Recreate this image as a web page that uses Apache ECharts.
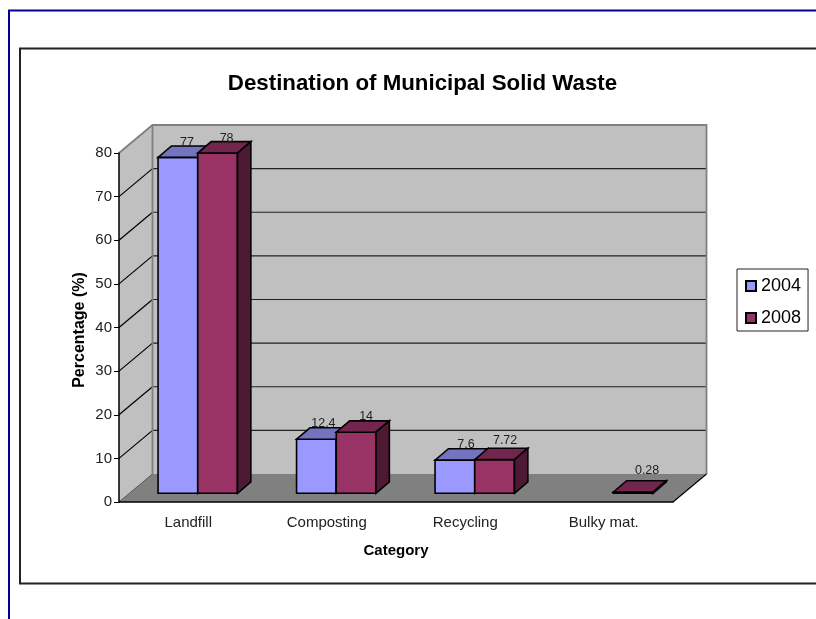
<!DOCTYPE html>
<html>
<head>
<meta charset="utf-8">
<style>
  html, body { margin: 0; padding: 0; background: #fff; }
  #chart { width: 816px; height: 619px; }
</style>
<script src="https://cdn.jsdelivr.net/npm/echarts@6/dist/echarts.min.js"></script>
</head>
<body>
<div id="chart"></div>
<script>
const categories = ['Landfill', 'Composting', 'Recycling', 'Bulky mat.']
const values2004 = [77, 12.4, 7.6, null]
const values2008 = [78, 14, 7.72, 0.28]
const yTicks = [0, 10, 20, 30, 40, 50, 60, 70, 80]

const FONT = '"Liberation Sans", Arial, sans-serif'

// wall depth of the fake 3D box, bar depth and inset
const wallDX = 33.5
const wallDY = 28
const barDX = 13.4
const barDY = 11.4
const baseDY = 8.7
const barW = 39.7

// hand nudges for the data labels, the source places them a bit unevenly
const labelNudge2004 = [[0, 1.5], [-2, 0], [2, 0], [0, 0]]
const labelNudge2008 = [[0, 1.5], [1, 0], [1.5, -3], [5, -6]]

const poly = (points, fill, stroke, lineWidth) => ({
  type: 'polygon',
  shape: { points },
  style: { fill, stroke: stroke || 'none', lineWidth: lineWidth || 0, lineJoin: 'miter' }
})

const line = (points, stroke, lineWidth) => ({
  type: 'polyline',
  shape: { points },
  style: { fill: 'none', stroke, lineWidth }
})

const renderWalls = (params, api) => {
  const g = params.coordSys
  const y0 = api.coord([0, 0])[1]
  const yTop = api.coord([0, 80])[1]
  const xL = g.x
  const xR = g.x + g.width
  const children = [
    poly([[xL, yTop], [xL + wallDX, yTop - wallDY], [xL + wallDX, y0 - wallDY], [xL, y0]], '#c0c0c0'),
    poly([[xL + wallDX, yTop - wallDY], [xR + wallDX, yTop - wallDY], [xR + wallDX, y0 - wallDY], [xL + wallDX, y0 - wallDY]], '#c0c0c0'),
    poly([[xL, y0], [xL + wallDX, y0 - wallDY], [xR + wallDX, y0 - wallDY], [xR, y0]], '#808080')
  ]
  yTicks.slice(1, -1).forEach(v => {
    const y = api.coord([0, v])[1]
    children.push(line([[xL, y], [xL + wallDX, y - wallDY]], '#000', 1.2))
    children.push(line([[xL + wallDX, y - wallDY], [xR + wallDX, y - wallDY]], '#222', 1.2))
  })
  children.push(line([[xL, yTop], [xL + wallDX, yTop - wallDY], [xR + wallDX, yTop - wallDY], [xR + wallDX, y0 - wallDY]], '#808080', 1.8))
  children.push(line([[xL + wallDX, yTop - wallDY], [xL + wallDX, y0 - wallDY]], '#808080', 1.8))
  children.push(line([[xL, y0], [xL + wallDX, y0 - wallDY]], '#555', 1))
  children.push(line([[xR, y0], [xR + wallDX, y0 - wallDY]], '#000', 1.2))
  return { type: 'group', children }
}

const barRenderer = (offset, nudge, front, top, side) => (params, api) => {
  const v = api.value(1)
  if (v == null || isNaN(v)) return null
  const base = api.coord([api.value(0), 0])
  const head = api.coord([api.value(0), v])
  const xa = base[0] + offset
  const xb = xa + barW
  const yb = base[1] - baseDY
  const yt = head[1] - baseDY
  const n = nudge[params.dataIndex]
  const children = [
    poly([[xa, yb], [xb, yb], [xb, yt], [xa, yt]], front, '#000', 1.6),
    poly([[xa, yt], [xb, yt], [xb + barDX, yt - barDY], [xa + barDX, yt - barDY]], top, '#000', 1.6),
    poly([[xb, yb], [xb + barDX, yb - barDY], [xb + barDX, yt - barDY], [xb, yt]], side, '#000', 1.6),
    {
      type: 'text',
      style: {
        x: xa + barW / 2 + 9 + n[0],
        y: yt - 16 + n[1],
        text: String(v),
        fill: '#222',
        font: '12.5px ' + FONT,
        align: 'center',
        verticalAlign: 'middle'
      }
    }
  ]
  return { type: 'group', children }
}

const toPoints = vals => categories.map((c, i) => [i, vals[i]])

const chart = echarts.init(document.getElementById('chart'), null, { renderer: 'canvas' })

chart.setOption({
  animation: false,
  backgroundColor: '#fff',
  title: {
    text: 'Destination of Municipal Solid Waste',
    left: 417.5,
    top: 68,
    textAlign: 'center',
    textStyle: { fontFamily: FONT, fontSize: 22.3, fontWeight: 'bold', color: '#000' }
  },
  graphic: [
    { type: 'rect', silent: true, z: -1, shape: { x: 9, y: 10.5, width: 830, height: 640 }, style: { fill: 'none', stroke: '#000099', lineWidth: 2 } },
    { type: 'rect', silent: true, z: -1, shape: { x: 20, y: 48.5, width: 830, height: 535 }, style: { fill: 'none', stroke: '#222', lineWidth: 2 } }
  ],
  legend: {
    data: ['2004', '2008'],
    orient: 'vertical',
    left: 737,
    top: 269,
    padding: [8, 7, 4, 8],
    itemGap: 14,
    itemWidth: 10,
    itemHeight: 10,
    borderColor: '#222',
    borderWidth: 1,
    icon: 'rect',
    selectedMode: false,
    textStyle: { fontFamily: FONT, fontSize: 18, color: '#000', padding: [0, 0, 0, 0] }
  },
  grid: { left: 119, top: 153, width: 554, height: 349, containLabel: false },
  xAxis: {
    type: 'category',
    data: categories,
    z: 3,
    name: 'Category',
    nameLocation: 'middle',
    nameGap: 41,
    nameTextStyle: { fontFamily: FONT, fontSize: 15, fontWeight: 'bold', color: '#000' },
    axisLine: { lineStyle: { color: '#000', width: 1.5 } },
    axisTick: { length: 5, lineStyle: { color: '#000' } },
    axisLabel: { fontFamily: FONT, fontSize: 15, color: '#222', margin: 13 }
  },
  yAxis: {
    type: 'value',
    min: 0,
    max: 80,
    interval: 10,
    z: 3,
    name: 'Percentage (%)',
    nameLocation: 'middle',
    nameGap: 31.5,
    nameMoveOverlap: false,
    nameTextStyle: { fontFamily: FONT, fontSize: 16, fontWeight: 'bold', color: '#000', padding: [0, 5, 0, 0] },
    axisLine: { show: true, lineStyle: { color: '#000', width: 1.5 } },
    axisTick: { show: true, length: 5, lineStyle: { color: '#000' } },
    axisLabel: { fontFamily: FONT, fontSize: 15, color: '#222', margin: 7 },
    splitLine: { show: false }
  },
  series: [
    {
      name: 'walls',
      type: 'custom',
      z: 1,
      silent: true,
      renderItem: renderWalls,
      data: [[0, 0]],
      clip: false
    },
    {
      name: '2004',
      type: 'custom',
      z: 4,
      itemStyle: { color: '#9999ff', borderColor: '#000', borderWidth: 1 },
      renderItem: barRenderer(-30.2, labelNudge2004, '#9999ff', '#7373bf', '#4d4d80'),
      encode: { x: 0, y: 1 },
      data: toPoints(values2004),
      clip: false
    },
    {
      name: '2008',
      type: 'custom',
      z: 5,
      itemStyle: { color: '#993366', borderColor: '#000', borderWidth: 1 },
      renderItem: barRenderer(9.5, labelNudge2008, '#993366', '#73264d', '#4d1933'),
      encode: { x: 0, y: 1 },
      data: toPoints(values2008),
      clip: false
    }
  ]
})
</script>
</body>
</html>
